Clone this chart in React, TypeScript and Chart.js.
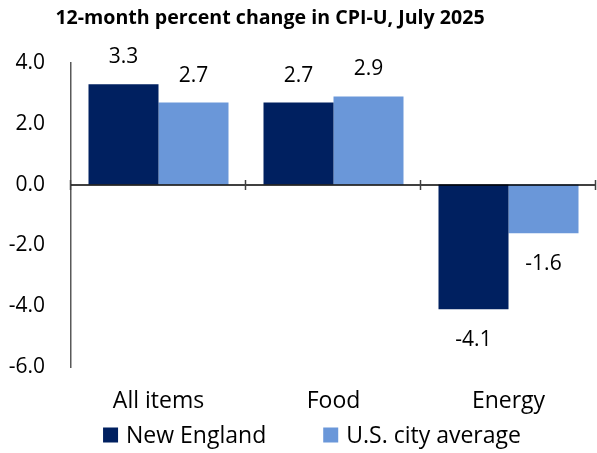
import React, { useEffect, useRef } from "react";
import { Chart, registerables } from "chart.js";

Chart.register(...registerables);

const categories = ["All items", "Food", "Energy"];
const newEngland = [3.3, 2.7, -4.1];
const usCityAverage = [2.7, 2.9, -1.6];
const seriesNames = ["New England", "U.S. city average"];
const titleText = "12-month percent change in CPI-U, July 2025";

const FONT = "'Open Sans', sans-serif";
const NAVY = "#002060";
const LIGHT = "#6A97D9";
const FS = 21;
const FS_WORDS = 23;

const zeroLinePlugin = {
  id: "zeroLine",
  afterDatasetsDraw(chart: any) {
    const { ctx, chartArea, scales } = chart;
    const y0 = Math.round(scales.y.getPixelForValue(0));
    ctx.save();
    ctx.strokeStyle = "#000000";
    ctx.lineWidth = 1.5;
    ctx.beginPath();
    ctx.moveTo(chartArea.left, y0);
    ctx.lineTo(chartArea.right, y0);
    ctx.stroke();
    ctx.strokeStyle = "#404040";
    const n = categories.length;
    const w = (chartArea.right - chartArea.left) / n;
    for (let i = 0; i <= n; i++) {
      const px = Math.round(chartArea.left + i * w) - 0.5;
      ctx.beginPath();
      ctx.moveTo(px, y0 - 5);
      ctx.lineTo(px, y0 + 5);
      ctx.stroke();
    }
    ctx.restore();
  },
};

const labelsPlugin = {
  id: "valueLabels",
  afterDatasetsDraw(chart: any) {
    const { ctx } = chart;
    ctx.save();
    ctx.font = `${FS}px ${FONT}`;
    ctx.fillStyle = "#000000";
    ctx.textAlign = "center";
    ctx.textBaseline = "middle";
    chart.data.datasets.forEach((ds: any, di: number) => {
      const meta = chart.getDatasetMeta(di);
      meta.data.forEach((bar: any, i: number) => {
        const v = ds.data[i];
        const y = v >= 0 ? bar.y - 27 : bar.y + 31;
        ctx.fillText(v.toFixed(1), bar.x, y);
      });
    });
    ctx.restore();
  },
};

const titleLegendPlugin = {
  id: "titleLegend",
  afterDraw(chart: any) {
    const { ctx } = chart;
    ctx.save();
    ctx.fillStyle = "#000000";
    ctx.font = `bold 19.6px ${FONT}`;
    ctx.textAlign = "center";
    ctx.textBaseline = "middle";
    ctx.fillText(titleText, 270, 18);

    ctx.font = `${FS_WORDS}px ${FONT}`;
    ctx.textAlign = "left";
    const box = 15;
    const gapText = 8;
    const gapItem = 57;
    const widths = seriesNames.map((s) => ctx.measureText(s).width);
    const total = widths.reduce((a, w) => a + box + gapText + w, 0) + gapItem * (seriesNames.length - 1);
    let x = 312 - total / 2;
    const yc = 435;
    seriesNames.forEach((name, i) => {
      ctx.fillStyle = chart.data.datasets[i].backgroundColor;
      ctx.fillRect(x, yc - box / 2, box, box);
      ctx.fillStyle = "#000000";
      ctx.fillText(name, x + box + gapText, yc + 1);
      x += box + gapText + widths[i] + gapItem;
    });
    ctx.restore();
  },
};

export default function App() {
  const ref = useRef<HTMLCanvasElement | null>(null);
  useEffect(() => {
    if (!ref.current) return;
    const chart = new Chart(ref.current, {
      type: "bar",
      data: {
        labels: categories,
        datasets: [
          {
            label: seriesNames[0],
            data: newEngland,
            backgroundColor: NAVY,
            borderWidth: 0,
            barPercentage: 1.0,
            categoryPercentage: 0.8,
          },
          {
            label: seriesNames[1],
            data: usCityAverage,
            backgroundColor: LIGHT,
            borderWidth: 0,
            barPercentage: 1.0,
            categoryPercentage: 0.8,
          },
        ],
      },
      options: {
        responsive: false,
        animation: false,
        layout: { padding: { left: 8, right: 1, top: 63, bottom: 26 } },
        plugins: {
          title: { display: false },
          legend: { display: false },
          tooltip: { enabled: false },
        },
        scales: {
          x: {
            grid: { display: false, drawTicks: false },
            border: { display: false },
            ticks: { color: "#000000", font: { family: FONT, size: FS_WORDS }, padding: 21 },
            afterFit: (s: any) => {
              s.height = 60;
            },
          },
          y: {
            min: -6,
            max: 4,
            grid: { display: false, drawTicks: false },
            border: { display: true, color: "#595959", width: 1.5 },
            ticks: {
              stepSize: 2,
              color: "#000000",
              font: { family: FONT, size: FS },
              padding: 26,
              callback: (v: any) => Number(v).toFixed(1),
            },
            afterFit: (s: any) => {
              s.width = 63;
            },
          },
        },
      },
      plugins: [zeroLinePlugin, labelsPlugin, titleLegendPlugin],
    });
    return () => chart.destroy();
  }, []);
  return (
    <div style={{ position: "absolute", left: 0, top: 0, width: 597, height: 453, background: "#fff" }}>
      <canvas ref={ref} width={597} height={453} />
    </div>
  );
}
